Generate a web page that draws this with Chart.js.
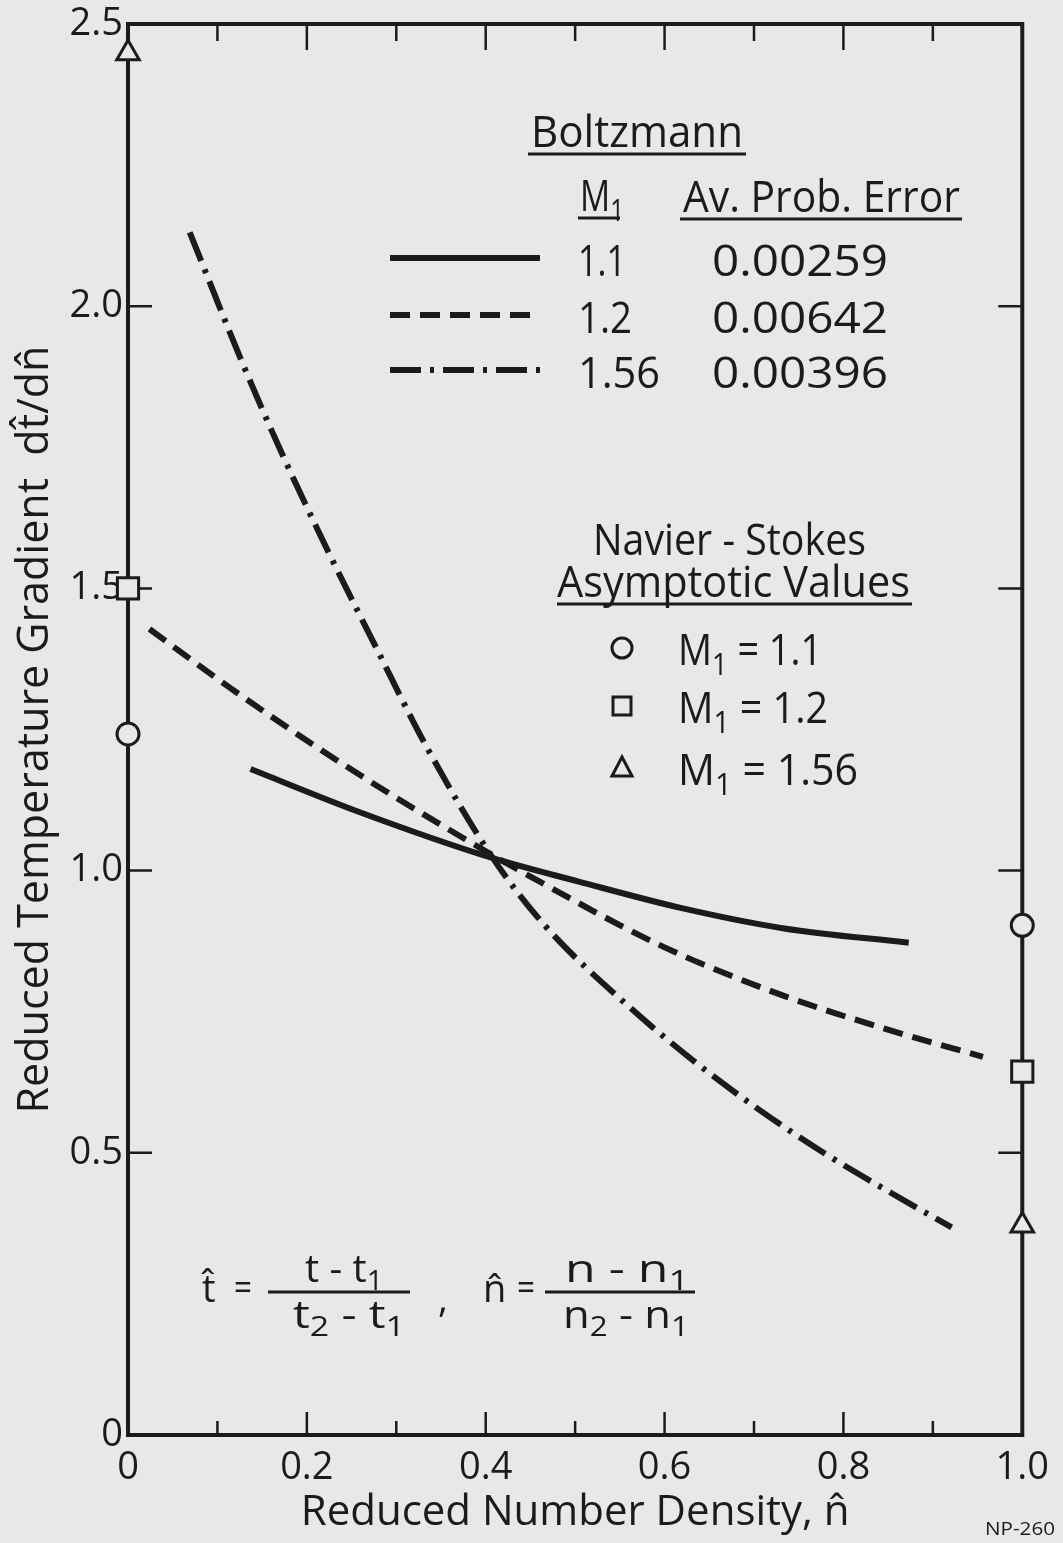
<!DOCTYPE html>
<html>
<head>
<meta charset="utf-8">
<script src="https://cdn.jsdelivr.net/npm/chart.js@4.4.1/dist/chart.umd.min.js"></script>
<style>
html,body{margin:0;padding:0;background:#e8e8e6;}
#wrap{width:1063px;height:1543px;position:relative;}
</style>
</head>
<body>
<div id="wrap"><canvas id="c"></canvas></div>
<script>
// ---------------- DATA ----------------
const xTickValues = [0, 0.2, 0.4, 0.6, 0.8, 1.0];
const xTickLabels = ['0', '0.2', '0.4', '0.6', '0.8', '1.0'];
const yTickValues = [0, 0.5, 1.0, 1.5, 2.0, 2.5];
const yTickLabels = ['0', '0.5', '1.0', '1.5', '2.0', '2.5'];
const xInnerTicks = [0.1, 0.2, 0.3, 0.4, 0.5, 0.6, 0.7, 0.8, 0.9];
const yInnerTicks = [0.5, 1.0, 1.5, 2.0];

// Boltzmann curves
const m11X  = [0.137, 0.260, 0.408, 0.503, 0.618, 0.732, 0.873];
const m11Y  = [1.180, 1.103, 1.022, 0.981, 0.934, 0.898, 0.872];
const m12X  = [0.024, 0.113, 0.209, 0.298, 0.408, 0.447, 0.600, 0.732, 0.846, 0.956];
const m12Y  = [1.428, 1.325, 1.221, 1.131, 1.027, 0.992, 0.864, 0.779, 0.720, 0.670];
const m156X = [0.069, 0.127, 0.171, 0.223, 0.275, 0.334, 0.408, 0.466, 0.558, 0.656, 0.763, 0.874, 0.921];
const m156Y = [2.131, 1.903, 1.743, 1.568, 1.403, 1.219, 1.022, 0.903, 0.762, 0.634, 0.515, 0.410, 0.368];

// Navier-Stokes asymptotic values (at n = 0 and n = 1)
const nsX    = [0, 1];
const ns11Y  = [1.242, 0.903];
const ns12Y  = [1.500, 0.644];
const ns156Y = [2.448, 0.371];

// Legend table text
const boltzM   = ['1.1', '1.2', '1.56'];
const boltzErr = ['0.00259', '0.00642', '0.00396'];
const nsLabels = ['1.1', '1.2', '1.56'];

// ---------------- STYLE ----------------
const INK = '#1b1b1b';
const BG = '#e8e8e6';
const FONT = "'Open Sans', 'DejaVu Sans', sans-serif";
const DASH = [20, 10];
const DASHDOT = [31, 9, 4, 9];
const HAT = '\u0302';

const pts = (xs, ys) => xs.map((x, i) => ({x, y: ys[i]}));

function fitText(ctx, str, x, y, size, width) {
  ctx.font = `${size}px ${FONT}`;
  const w = ctx.measureText(str).width;
  const sx = width ? width / w : 1;
  ctx.save();
  ctx.translate(x, y);
  ctx.scale(sx, 1);
  ctx.textAlign = 'left';
  ctx.textBaseline = 'alphabetic';
  ctx.fillText(str, 0, 0);
  ctx.restore();
  return w * sx;
}

// runs: [[text, isSub], ...]
function drawRuns(ctx, runs, x, y, size, width) {
  const subSize = size * 0.72;
  let total = 0;
  runs.forEach(([t, sub]) => {
    ctx.font = `${sub ? subSize : size}px ${FONT}`;
    total += ctx.measureText(t).width;
  });
  const sx = width ? width / total : 1;
  ctx.save();
  ctx.translate(x, y);
  ctx.scale(sx, 1);
  ctx.textAlign = 'left';
  ctx.textBaseline = 'alphabetic';
  let cx = 0;
  runs.forEach(([t, sub]) => {
    ctx.font = `${sub ? subSize : size}px ${FONT}`;
    ctx.fillText(t, cx, sub ? size * 0.22 : 0);
    cx += ctx.measureText(t).width;
  });
  ctx.restore();
  return total * sx;
}

function hline(ctx, x1, x2, y, w) {
  ctx.save();
  ctx.lineWidth = w;
  ctx.setLineDash([]);
  ctx.beginPath(); ctx.moveTo(x1, y); ctx.lineTo(x2, y); ctx.stroke();
  ctx.restore();
}

function drawMarker(ctx, style, x, y, r) {
  ctx.save();
  ctx.lineWidth = 3;
  ctx.strokeStyle = INK;
  ctx.fillStyle = BG;
  ctx.beginPath();
  if (style === 'circle') {
    ctx.arc(x, y, r, 0, Math.PI * 2);
  } else if (style === 'rect') {
    ctx.rect(x - r, y - r, 2 * r, 2 * r);
  } else {
    ctx.moveTo(x, y - r * 1.1);
    ctx.lineTo(x + r, y + r * 0.8);
    ctx.lineTo(x - r, y + r * 0.8);
    ctx.closePath();
  }
  ctx.fill();
  ctx.stroke();
  ctx.restore();
}

const framePlugin = {
  id: 'frame',
  beforeDatasetsDraw(chart) {
    const {ctx, chartArea: {left, right, top, bottom}, scales: {x, y}} = chart;
    ctx.save();
    ctx.strokeStyle = INK;
    ctx.lineWidth = 4;
    ctx.strokeRect(left, top, right - left, bottom - top);
    ctx.lineWidth = 2.5;
    ctx.beginPath();
    xInnerTicks.forEach((v, i) => {
      const px = x.getPixelForValue(v);
      const major = (i % 2 === 1);
      const lb = major ? 23 : 14;
      const lt = major ? 26 : 17;
      ctx.moveTo(px, bottom); ctx.lineTo(px, bottom - lb);
      ctx.moveTo(px, top); ctx.lineTo(px, top + lt);
    });
    yInnerTicks.forEach(v => {
      const py = y.getPixelForValue(v);
      ctx.moveTo(left, py); ctx.lineTo(left + 24, py);
      ctx.moveTo(right, py); ctx.lineTo(right - 24, py);
    });
    ctx.stroke();
    ctx.restore();
  }
};

const annotPlugin = {
  id: 'annot',
  afterDraw(chart) {
    const ctx = chart.ctx;
    ctx.save();
    ctx.fillStyle = INK;
    ctx.strokeStyle = INK;

    // ---- Boltzmann block ----
    let w = fitText(ctx, 'Boltzmann', 531, 147, 44, 212);
    hline(ctx, 528, 531 + w + 3, 154, 3);
    drawRuns(ctx, [['M', false], ['1', true]], 580, 211, 44, 44);
    hline(ctx, 578, 620, 218, 3);
    fitText(ctx, 'Av. Prob. Error', 683, 212, 44, 277);
    hline(ctx, 680, 962, 219, 3);

    const rowY = [258, 315, 370];
    const dashes = [[], DASH, DASHDOT];
    const mW = [48, 54, 82];
    rowY.forEach((ry, i) => {
      ctx.save();
      ctx.lineWidth = 6;
      ctx.lineCap = 'butt';
      ctx.setLineDash(dashes[i]);
      ctx.beginPath(); ctx.moveTo(390, ry); ctx.lineTo(540, ry); ctx.stroke();
      ctx.restore();
      fitText(ctx, boltzM[i], 578, ry + 18, 44, mW[i]);
      fitText(ctx, boltzErr[i], 712, ry + 18, 44, 176);
    });

    // ---- Navier-Stokes block ----
    fitText(ctx, 'Navier - Stokes', 593, 555, 44, 273);
    fitText(ctx, 'Asymptotic Values', 557, 597, 44, 353);
    hline(ctx, 557, 912, 604, 3);
    const nsRowY = [648, 706, 768];
    const styles = ['circle', 'rect', 'tri'];
    const nsW = [144, 150, 180];
    nsRowY.forEach((ry, i) => {
      drawMarker(ctx, styles[i], 622, ry, i === 1 ? 9 : 10);
      drawRuns(ctx, [['M', false], ['1', true], [' = ' + nsLabels[i], false]], 678, ry + 17, 44, nsW[i]);
    });

    // ---- Formula ----
    const fs = 38;
    fitText(ctx, 't' + HAT, 202, 1302, fs);
    fitText(ctx, '=', 234, 1300, fs, 18);
    drawRuns(ctx, [['t - t', false], ['1', true]], 305, 1282, fs, 78);
    hline(ctx, 268, 410, 1292, 3);
    drawRuns(ctx, [['t', false], ['2', true], [' - t', false], ['1', true]], 293, 1328, fs, 112);
    fitText(ctx, ',', 438, 1312, fs);
    fitText(ctx, 'n' + HAT, 483, 1302, fs);
    fitText(ctx, '=', 517, 1300, fs, 18);
    drawRuns(ctx, [['n - n', false], ['1', true]], 565, 1282, fs, 124);
    hline(ctx, 545, 695, 1292, 3);
    drawRuns(ctx, [['n', false], ['2', true], [' - n', false], ['1', true]], 563, 1328, fs, 126);

    // ---- figure id ----
    fitText(ctx, 'NP-260', 985, 1535, 18, 70);
    ctx.restore();
  }
};

Chart.defaults.color = INK;
Chart.defaults.font.family = FONT;

const curveBase = {
  showLine: true,
  pointRadius: 0,
  borderColor: INK,
  borderWidth: 6,
  borderCapStyle: 'butt',
  cubicInterpolationMode: 'monotone',
  fill: false
};
const markerBase = {
  showLine: false,
  borderColor: INK,
  backgroundColor: BG,
  pointBorderWidth: 3,
  clip: false
};

new Chart(document.getElementById('c'), {
  type: 'scatter',
  data: {
    datasets: [
      {...curveBase, label: 'M1 = 1.1',  data: pts(m11X, m11Y)},
      {...curveBase, label: 'M1 = 1.2',  data: pts(m12X, m12Y), borderDash: DASH},
      {...curveBase, label: 'M1 = 1.56', data: pts(m156X, m156Y), borderDash: DASHDOT},
      {...markerBase, label: 'NS 1.1',  data: pts(nsX, ns11Y),  pointStyle: 'circle',   pointRadius: 11},
      {...markerBase, label: 'NS 1.2',  data: pts(nsX, ns12Y),  pointStyle: 'rect',     pointRadius: 15},
      {...markerBase, label: 'NS 1.56', data: pts(nsX, ns156Y), pointStyle: 'triangle', pointRadius: 13}
    ]
  },
  options: {
    responsive: true,
    maintainAspectRatio: false,
    animation: false,
    layout: {padding: {top: 22, right: 31, left: 0, bottom: 0}},
    plugins: {legend: {display: false}, tooltip: {enabled: false}},
    scales: {
      x: {
        type: 'linear', position: 'bottom', min: 0, max: 1,
        grid: {display: false, drawTicks: false},
        border: {display: false},
        afterBuildTicks: s => { s.ticks = xTickValues.map(v => ({value: v})); },
        ticks: {
          padding: 14, color: INK, maxRotation: 0, autoSkip: false,
          font: {size: 38, family: FONT, lineHeight: 1},
          callback: (v, i) => xTickLabels[i]
        },
        title: {
          display: true, text: 'Reduced Number Density, n' + HAT, color: INK,
          font: {size: 42, family: FONT, lineHeight: 1.2},
          padding: {top: 0, bottom: 5}
        },
        afterFit: s => { s.height = 108; }
      },
      y: {
        type: 'linear', position: 'left', min: 0, max: 2.5,
        grid: {display: false, drawTicks: false},
        border: {display: false},
        afterBuildTicks: s => { s.ticks = yTickValues.map(v => ({value: v})); },
        ticks: {
          padding: 5, color: INK, autoSkip: false,
          font: {size: 38, family: FONT, lineHeight: 1},
          callback: (v, i) => yTickLabels[i]
        },
        title: {
          display: true, text: 'Reduced Temperature Gradient  dt' + HAT + '/dn' + HAT, color: INK,
          font: {size: 43, family: FONT, lineHeight: 1.2},
          padding: {top: 10, bottom: 0}
        },
        afterFit: s => { s.width = 128; }
      }
    }
  },
  plugins: [framePlugin, annotPlugin]
});
</script>
</body>
</html>
